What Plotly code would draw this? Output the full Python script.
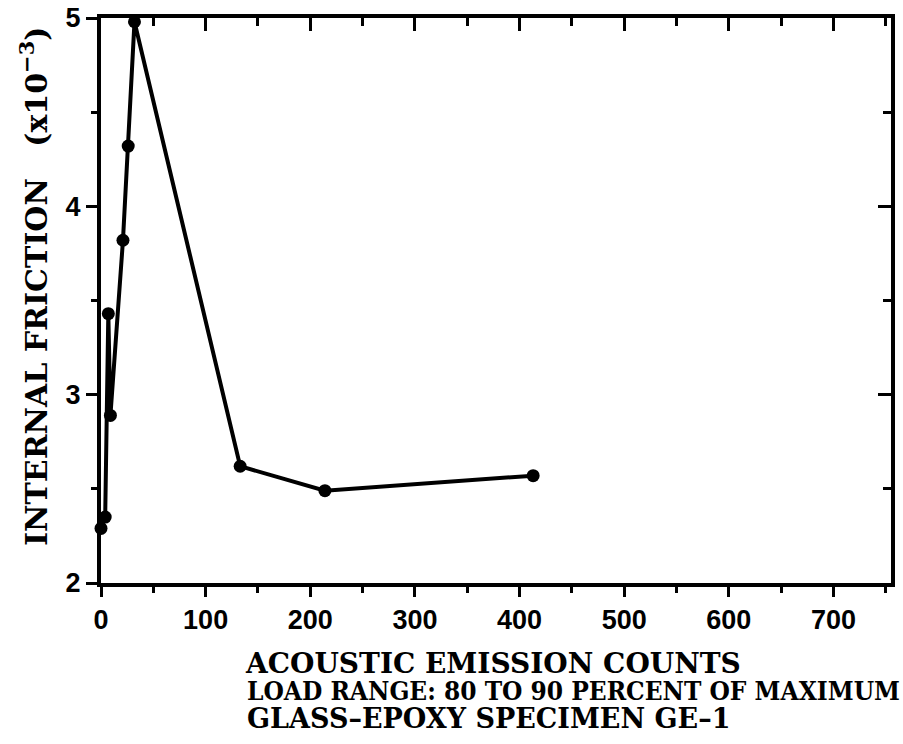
import plotly.graph_objects as go

# Acoustic emission counts vs internal friction, glass-epoxy specimen GE-1
ae_counts = [0, 4, 7, 9, 21, 26, 32, 133, 214, 413]
internal_friction = [2.29, 2.35, 3.43, 2.89, 3.82, 4.32, 4.98, 2.62, 2.49, 2.57]

x_ticks = [0, 100, 200, 300, 400, 500, 600, 700]
y_ticks = [2, 3, 4, 5]

x_title = "ACOUSTIC EMISSION COUNTS"
subtitle_1 = "LOAD RANGE: 80 TO 90 PERCENT OF MAXIMUM"
subtitle_2 = "GLASS\u2013EPOXY SPECIMEN GE\u20131"
y_title = "INTERNAL FRICTION&nbsp;&nbsp;&nbsp;(x10<sup>\u22123</sup>)"

X_RANGE = [0, 755]
Y_RANGE = [2, 5]

INK = "#000000"
SERIF = "DejaVu Serif, serif"
SERIF_COND = "DejaVu Serif Condensed, DejaVu Serif, serif"
TICK_FONT = dict(family="Liberation Sans, Arial, sans-serif", size=27, color=INK, weight="bold")


def title_font(family, size):
    return dict(family=family, size=size, color=INK, weight="bold")


W, H = 903, 744
ML, MR, MT, MB = 101, 12, 18, 161
PW, PH = W - ML - MR, H - MT - MB


def px_x(px):
    return (px - ML) / PW


def px_y(py):
    return (H - MB - py) / PH


fig = go.Figure()
fig.add_trace(go.Scatter(
    x=ae_counts, y=internal_friction,
    mode="lines+markers",
    line=dict(color=INK, width=4),
    marker=dict(color=INK, size=13),
    cliponaxis=False,
    showlegend=False,
))

axis_common = dict(showgrid=False, zeroline=False, showline=True, automargin=False,
                   linecolor=INK, linewidth=4, tickcolor=INK, tickwidth=3)

fig.update_layout(
    width=W, height=H,
    margin=dict(l=ML, r=MR, t=MT, b=MB, autoexpand=False),
    paper_bgcolor="white", plot_bgcolor="white",
    xaxis=dict(range=X_RANGE, tickvals=x_ticks, ticks="outside", ticklen=10,
               tickfont=TICK_FONT,
               minor=dict(dtick=50, ticks="outside", ticklen=6, tickwidth=3, tickcolor=INK),
               **axis_common),
    yaxis=dict(range=Y_RANGE, tickvals=y_ticks, ticks="outside", ticklen=11,
               tickfont=TICK_FONT,
               minor=dict(dtick=0.5, ticks="outside", ticklen=6, tickwidth=3, tickcolor=INK),
               **axis_common),
    xaxis2=dict(range=X_RANGE, overlaying="x", side="top", tickvals=x_ticks,
                ticks="inside", ticklen=13, showticklabels=False,
                minor=dict(dtick=50, ticks="inside", ticklen=8, tickwidth=3, tickcolor=INK),
                **axis_common),
    yaxis2=dict(range=Y_RANGE, overlaying="y", side="right", tickvals=y_ticks,
                ticks="inside", ticklen=13, showticklabels=False,
                minor=dict(dtick=0.5, ticks="inside", ticklen=8, tickwidth=3, tickcolor=INK),
                **axis_common),
)

# invisible carrier so the mirrored top/right axes are drawn
fig.add_trace(go.Scatter(x=[X_RANGE[0]], y=[Y_RANGE[0]], xaxis="x2", yaxis="y2",
                         mode="markers", marker=dict(opacity=0), hoverinfo="skip",
                         showlegend=False))

fig.add_annotation(text=x_title, xref="paper", yref="paper",
                   x=px_x(493), y=px_y(663), xanchor="center", yanchor="middle",
                   showarrow=False, font=title_font(SERIF, 28))
fig.add_annotation(text=subtitle_1, xref="paper", yref="paper",
                   x=px_x(573), y=px_y(691), xanchor="center", yanchor="middle",
                   showarrow=False, font=title_font(SERIF_COND, 26))
fig.add_annotation(text=subtitle_2, xref="paper", yref="paper",
                   x=px_x(488), y=px_y(718), xanchor="center", yanchor="middle",
                   showarrow=False, font=title_font(SERIF, 27))
fig.add_annotation(text=y_title, xref="paper", yref="paper",
                   x=px_x(34), y=px_y(287), xanchor="center", yanchor="middle",
                   textangle=-90, showarrow=False, font=title_font(SERIF, 30))

fig.write_html("out.html")
